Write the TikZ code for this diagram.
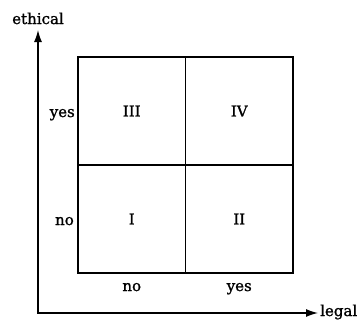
\documentclass[tikz,border=0pt]{standalone}
\usepackage{fontspec}
\setmainfont[FakeBold=1.2]{DejaVu Serif}
\usetikzlibrary{arrows.meta}
\begin{document}
\begin{tikzpicture}[x=1pt,y=-1pt,
  cell/.style={draw=black,line width=1.2pt,minimum width=107.5pt,minimum height=108pt,inner sep=0pt,font=\fontsize{15}{18}\selectfont},
  lab/.style={inner sep=0pt,font=\fontsize{15}{18}\selectfont},
  axis/.style={line width=1.3pt,{Latex[length=12pt,width=8pt]}-{Latex[length=12pt,width=8pt]}}]
\useasboundingbox (0,0) rectangle (361,324);
\node[cell] (c3) at (131.75,111) {III};
\node[cell] (c4) at (239.25,111) {IV};
\node[cell] (c1) at (131.75,219) {I};
\node[cell] (c2) at (239.25,219) {II};
\coordinate (o) at (38,313);
\coordinate (ytip) at (38,30);
\coordinate (xtip) at (318,313);
\draw[axis] (ytip) -- (o) -- (xtip);
\node[lab,anchor=base] (eth) at (38,24) {ethical};
\node[lab,anchor=base west] (leg) at (320,316) {legal};
\node[lab,anchor=base east] (yesl) at (75,117) {yes};
\node[lab,anchor=base east] (nol) at (74,225) {no};
\node[lab,anchor=base] (nob) at (131.75,291) {no};
\node[lab,anchor=base] (yesb) at (239.25,291) {yes};
\end{tikzpicture}
\end{document}
